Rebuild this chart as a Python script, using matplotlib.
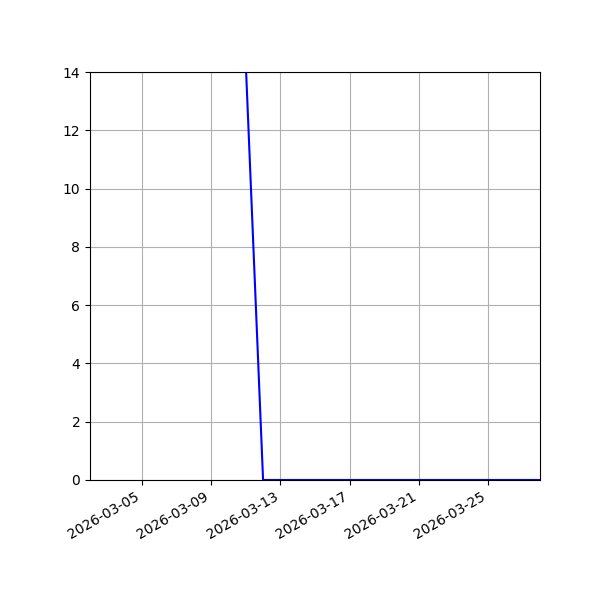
import matplotlib
matplotlib.use("Agg")
import matplotlib.pyplot as plt
import matplotlib.dates as mdates
import numpy as np
import datetime as dt

dates = [dt.datetime(2026, 3, 11) + dt.timedelta(days=i) for i in range(18)]
values = [14.3] + [0.0] * 17
tick_dates = [dt.datetime(2026, 3, d) for d in (5, 9, 13, 17, 21, 25)]

fig, ax = plt.subplots(figsize=(6, 6), dpi=100)
ax.plot(dates, values, color="blue")
ax.set_xlim(dt.datetime(2026, 3, 2), dt.datetime(2026, 3, 28))
ax.set_ylim(0, 14)
ax.set_xticks(tick_dates)
ax.xaxis.set_major_formatter(mdates.DateFormatter("%Y-%m-%d"))
ax.grid(True)
fig.autofmt_xdate()
fig.subplots_adjust(left=0.15, right=0.9, top=0.88, bottom=0.2)
fig.savefig("out.png", dpi=100)
